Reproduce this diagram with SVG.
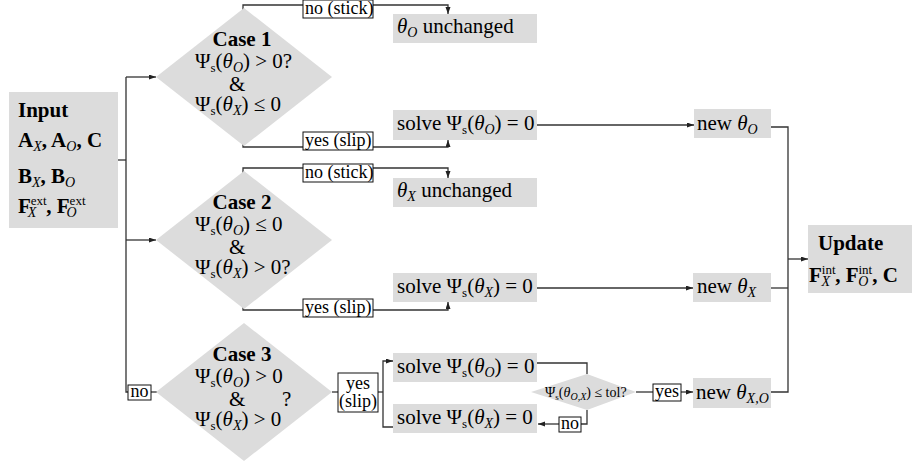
<svg xmlns="http://www.w3.org/2000/svg" width="912" height="464" viewBox="0 0 912 464">
  <defs>
    <marker id="arr" markerUnits="userSpaceOnUse" markerWidth="8" markerHeight="6" refX="7" refY="2.5" orient="auto">
      <path d="M0,0 L7,2.5 L0,5 Z" fill="#222"/>
    </marker>
    <style>
      .box { fill: #dcdcdc; stroke: none; }
      .tag { fill: #fff; stroke: #111; stroke-width: 1; }
      .ln { fill: none; stroke: #333; stroke-width: 1.3; }
      .ar { marker-end: url(#arr); }
      text { font-family: "Liberation Serif", "DejaVu Serif", serif; font-size: 21px; fill: #000; }
      .b { font-weight: bold; }
      .i { font-style: italic; }
      .sub { font-size: 14px; font-style: italic; }
      .sr { font-size: 13px; }
      .sup { font-size: 13px; }
      .lb { font-size: 18px; }
      .sm { font-size: 14px; }
      .sm .sub { font-size: 10px; }
      .sm .sr { font-size: 9px; }
    </style>
  </defs>
  <rect width="912" height="464" fill="#fff"/>

  <!-- connectors -->
  <g id="connectors">
    <!-- input fan-out -->
    <path class="ln" d="M118,160 H126"/>
    <path class="ln" d="M126,77 V392 H128"/>
    <path class="ln ar" d="M126,77 H156"/>
    <path class="ln ar" d="M126,240 H156"/>
    <path class="ln" d="M151,392 H157"/>
    <!-- case 1 branches -->
    <path class="ln" d="M243,10 V5 H303"/>
    <path class="ln ar" d="M373,5 H448 V14"/>
    <path class="ln" d="M243,142 V147 H303"/>
    <path class="ln ar" d="M373,147 H448 V140"/>
    <!-- case 2 branches -->
    <path class="ln" d="M243,173 V168 H303"/>
    <path class="ln ar" d="M373,168 H448 V178"/>
    <path class="ln" d="M243,305 V310 H303"/>
    <path class="ln ar" d="M373,310 H448 V302"/>
    <!-- case 3 branches -->
    <path class="ln" d="M332,392 H338"/>
    <path class="ln" d="M378,392 H383"/>
    <path class="ln ar" d="M383,392 V361 H393"/>
    <path class="ln" d="M383,392 V427 H393"/>
    <!-- tolerance loop -->
    <path class="ln" d="M537,363 H587 V374"/>
    <path class="ln" d="M587,410 V424 H581"/>
    <path class="ln ar" d="M559,424 H538"/>
    <path class="ln" d="M636,392 H653"/>
    <path class="ln ar" d="M681,392 H693"/>
    <!-- solved angles -->
    <path class="ln ar" d="M537,125 H694"/>
    <path class="ln ar" d="M537,288 H693"/>
    <!-- collect into update -->
    <path class="ln" d="M771,127 H788 V392 H771"/>
    <path class="ln" d="M771,288 H788"/>
    <path class="ln ar" d="M788,259 H808"/>
  </g>

  <!-- branch labels -->
  <g id="labels">
    <rect class="tag" x="303" y="0" width="70" height="18"/>
    <text class="lb" x="305" y="14">no (stick)</text>
    <rect class="tag" x="303" y="132" width="70" height="18"/>
    <text class="lb" x="305" y="146">yes (slip)</text>
    <rect class="tag" x="303" y="164" width="70" height="18"/>
    <text class="lb" x="305" y="178">no (stick)</text>
    <rect class="tag" x="303" y="299" width="70" height="18"/>
    <text class="lb" x="305" y="313">yes (slip)</text>
    <rect class="tag" x="338" y="373" width="40" height="39"/>
    <text class="lb" x="358" y="389" text-anchor="middle">yes</text>
    <text class="lb" x="358" y="407" text-anchor="middle">(slip)</text>
    <rect class="tag" x="128" y="385" width="23" height="15"/>
    <text class="lb" x="139.5" y="397" text-anchor="middle">no</text>
    <rect class="tag" x="559" y="417" width="22" height="15"/>
    <text class="lb" x="570" y="429" text-anchor="middle">no</text>
    <rect class="tag" x="653" y="384" width="28" height="17"/>
    <text class="lb" x="667" y="397" text-anchor="middle">yes</text>
  </g>

  <!-- input -->
  <g id="input">
    <rect class="box" x="9" y="92" width="109" height="136"/>
    <text class="b" x="18" y="117">Input</text>
    <text x="18" y="147"><tspan class="b">A</tspan><tspan class="sub" dy="4">X</tspan><tspan class="b" dy="-4">, A</tspan><tspan class="sub" dy="4">O</tspan><tspan class="b" dy="-4">, C</tspan></text>
    <text x="18" y="183"><tspan class="b">B</tspan><tspan class="sub" dy="4">X</tspan><tspan class="b" dy="-4">, B</tspan><tspan class="sub" dy="4">O</tspan></text>
    <text x="18" y="213"><tspan class="b">F</tspan><tspan class="sup" dy="-8">ext</tspan><tspan class="sub" dx="-19" dy="12">X</tspan><tspan class="b" dx="10" dy="-4">, F</tspan><tspan class="sup" dy="-8">ext</tspan><tspan class="sub" dx="-19" dy="12">O</tspan></text>
  </g>

  <!-- case 1 -->
  <g id="case1">
    <polygon class="box" points="244,8 332,77 244,146 156,77"/>
    <text class="b" x="242" y="46" text-anchor="middle">Case 1</text>
    <text x="195" y="68">Ψ<tspan class="sr" dy="4">s</tspan><tspan dy="-4">(</tspan><tspan class="i">θ</tspan><tspan class="sub" dy="4">O</tspan><tspan dy="-4">) &gt; 0?</tspan></text>
    <text x="229" y="91">&amp;</text>
    <text x="195" y="111">Ψ<tspan class="sr" dy="4">s</tspan><tspan dy="-4">(</tspan><tspan class="i">θ</tspan><tspan class="sub" dy="4">X</tspan><tspan dy="-4">) ≤ 0</tspan></text>
  </g>

  <!-- case 2 -->
  <g id="case2">
    <polygon class="box" points="244,171 332,240 244,309 156,240"/>
    <text class="b" x="242" y="209" text-anchor="middle">Case 2</text>
    <text x="195" y="231">Ψ<tspan class="sr" dy="4">s</tspan><tspan dy="-4">(</tspan><tspan class="i">θ</tspan><tspan class="sub" dy="4">O</tspan><tspan dy="-4">) ≤ 0</tspan></text>
    <text x="229" y="254">&amp;</text>
    <text x="195" y="274">Ψ<tspan class="sr" dy="4">s</tspan><tspan dy="-4">(</tspan><tspan class="i">θ</tspan><tspan class="sub" dy="4">X</tspan><tspan dy="-4">) &gt; 0?</tspan></text>
  </g>

  <!-- case 3 -->
  <g id="case3">
    <polygon class="box" points="244,323 332,392 244,461 156,392"/>
    <text class="b" x="242" y="361" text-anchor="middle">Case 3</text>
    <text x="195" y="383">Ψ<tspan class="sr" dy="4">s</tspan><tspan dy="-4">(</tspan><tspan class="i">θ</tspan><tspan class="sub" dy="4">O</tspan><tspan dy="-4">) &gt; 0</tspan></text>
    <text x="229" y="406">&amp;</text>
    <text x="282" y="406">?</text>
    <text x="195" y="426">Ψ<tspan class="sr" dy="4">s</tspan><tspan dy="-4">(</tspan><tspan class="i">θ</tspan><tspan class="sub" dy="4">X</tspan><tspan dy="-4">) &gt; 0</tspan></text>
  </g>

  <!-- outcomes -->
  <g id="stickO">
    <rect class="box" x="393" y="14" width="144" height="29"/>
    <text x="397" y="33"><tspan class="i">θ</tspan><tspan class="sub" dy="4">O</tspan><tspan dy="-4"> unchanged</tspan></text>
  </g>
  <g id="solveO1">
    <rect class="box" x="393" y="110" width="144" height="30"/>
    <text x="397" y="130">solve Ψ<tspan class="sr" dy="4">s</tspan><tspan dy="-4">(</tspan><tspan class="i">θ</tspan><tspan class="sub" dy="4">O</tspan><tspan dy="-4">) = 0</tspan></text>
  </g>
  <g id="stickX">
    <rect class="box" x="393" y="178" width="144" height="29"/>
    <text x="397" y="197"><tspan class="i">θ</tspan><tspan class="sub" dy="4">X</tspan><tspan dy="-4"> unchanged</tspan></text>
  </g>
  <g id="solveX1">
    <rect class="box" x="393" y="273" width="144" height="29"/>
    <text x="397" y="293">solve Ψ<tspan class="sr" dy="4">s</tspan><tspan dy="-4">(</tspan><tspan class="i">θ</tspan><tspan class="sub" dy="4">X</tspan><tspan dy="-4">) = 0</tspan></text>
  </g>
  <g id="solveO2">
    <rect class="box" x="393" y="353" width="144" height="29"/>
    <text x="397" y="373">solve Ψ<tspan class="sr" dy="4">s</tspan><tspan dy="-4">(</tspan><tspan class="i">θ</tspan><tspan class="sub" dy="4">O</tspan><tspan dy="-4">) = 0</tspan></text>
  </g>
  <g id="solveX2">
    <rect class="box" x="393" y="404" width="144" height="29"/>
    <text x="397" y="424">solve Ψ<tspan class="sr" dy="4">s</tspan><tspan dy="-4">(</tspan><tspan class="i">θ</tspan><tspan class="sub" dy="4">X</tspan><tspan dy="-4">) = 0</tspan></text>
  </g>

  <!-- tolerance check -->
  <g id="tol">
    <polygon class="box" points="587,374 636,392 587,410 531,392"/>
    <text class="sm" x="545" y="397">Ψ<tspan class="sr" dy="3">s</tspan><tspan dy="-3">(</tspan><tspan class="i">θ</tspan><tspan class="sub" dy="3">O,X</tspan><tspan dy="-3">) ≤ tol?</tspan></text>
  </g>

  <!-- new angles -->
  <g id="newO">
    <rect class="box" x="694" y="109" width="77" height="29"/>
    <text x="697" y="130">new <tspan class="i">θ</tspan><tspan class="sub" dy="4">O</tspan></text>
  </g>
  <g id="newX">
    <rect class="box" x="693" y="273" width="78" height="29"/>
    <text x="697" y="293">new <tspan class="i">θ</tspan><tspan class="sub" dy="4">X</tspan></text>
  </g>
  <g id="newXO">
    <rect class="box" x="693" y="378" width="78" height="30"/>
    <text x="696" y="399">new <tspan class="i">θ</tspan><tspan class="sub" dy="4">X,O</tspan></text>
  </g>

  <!-- update -->
  <g id="update">
    <rect class="box" x="808" y="225" width="104" height="68"/>
    <text class="b" x="818" y="250">Update</text>
    <text x="809" y="282"><tspan class="b">F</tspan><tspan class="sup" dy="-8">int</tspan><tspan class="sub" dx="-14" dy="12">X</tspan><tspan class="b" dx="5" dy="-4">, F</tspan><tspan class="sup" dy="-8">int</tspan><tspan class="sub" dx="-14" dy="12">O</tspan><tspan class="b" dx="4" dy="-4">, C</tspan></text>
  </g>
</svg>
